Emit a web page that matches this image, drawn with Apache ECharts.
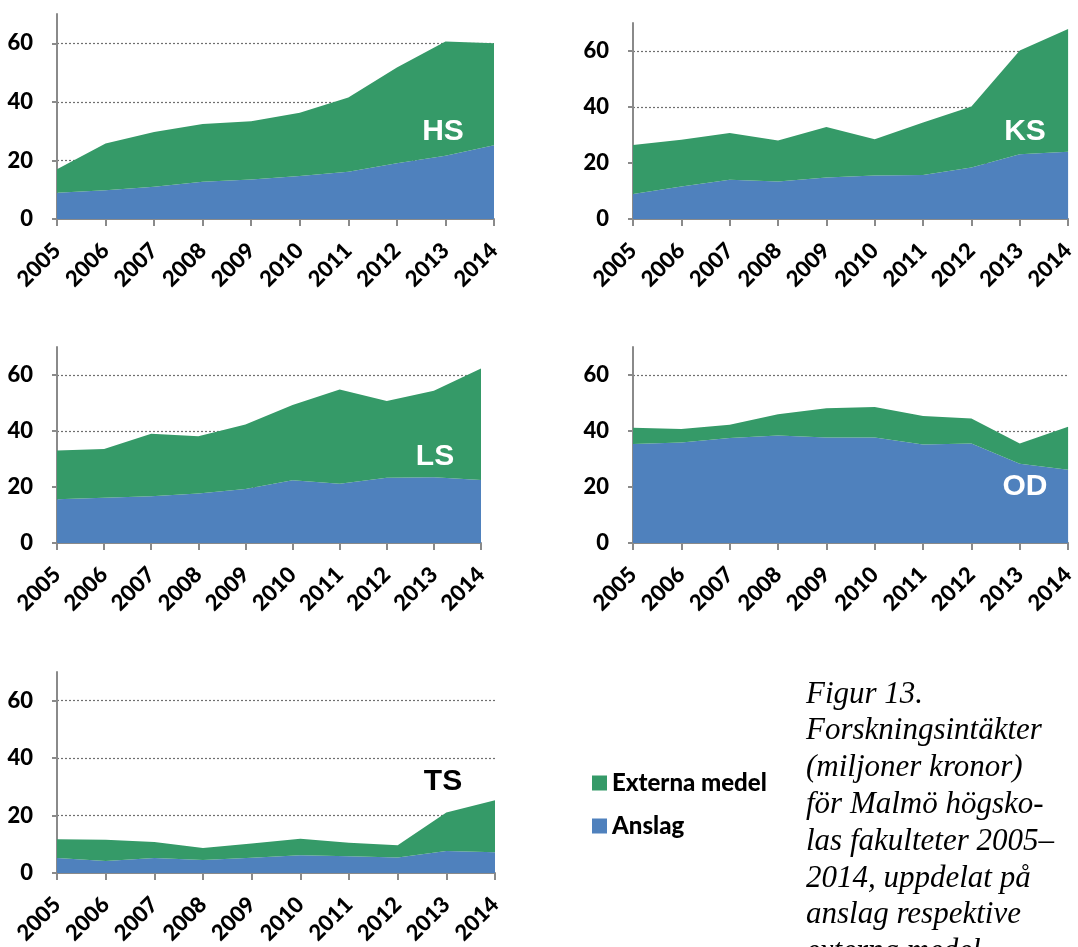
<!DOCTYPE html>
<html>
<head>
<meta charset="utf-8">
<script src="https://cdn.jsdelivr.net/npm/echarts@6/dist/echarts.min.js"></script>
<style>
  html, body { margin: 0; padding: 0; background: #fff; }
  #chart { width: 1078px; height: 947px; }
</style>
</head>
<body>
<div id="chart"></div>
<script>
// years on the x axis
var years = ['2005', '2006', '2007', '2008', '2009', '2010', '2011', '2012', '2013', '2014']
var yTicks = [0, 20, 40, 60]

// miljoner kronor
var hsAnslag = [9.0, 9.8, 11.0, 12.7, 13.5, 14.7, 16.1, 19.0, 21.6, 25.2]
var hsExterna = [8.0, 16.0, 18.7, 19.7, 19.9, 21.6, 25.4, 32.7, 39.0, 34.8]
var ksAnslag = [8.9, 11.6, 14.0, 13.4, 14.8, 15.5, 15.7, 18.4, 23.1, 24.0]
var ksExterna = [17.5, 16.7, 16.7, 14.6, 18.1, 13.0, 18.8, 21.8, 37.1, 43.9]
var lsAnslag = [15.6, 16.2, 16.7, 17.7, 19.3, 22.4, 21.2, 23.3, 23.5, 22.5]
var lsExterna = [17.4, 17.4, 22.3, 20.4, 23.0, 26.9, 33.6, 27.4, 30.9, 39.8]
var odAnslag = [35.4, 35.9, 37.5, 38.4, 37.7, 37.7, 35.2, 35.5, 28.3, 26.2]
var odExterna = [5.8, 4.8, 4.7, 7.6, 10.4, 10.9, 10.2, 9.0, 7.2, 15.3]
var tsAnslag = [5.2, 4.2, 5.2, 4.5, 5.3, 6.2, 5.8, 5.4, 7.7, 7.2]
var tsExterna = [6.6, 7.4, 5.6, 4.2, 5.0, 5.7, 4.7, 4.3, 13.4, 18.1]

var panels = [
  { name: 'HS', anslag: hsAnslag, externa: hsExterna, grid: { left: 57, top: 14, width: 437, height: 205 } },
  { name: 'KS', anslag: ksAnslag, externa: ksExterna, grid: { left: 633, top: 23, width: 438, height: 196 } },
  { name: 'LS', anslag: lsAnslag, externa: lsExterna, grid: { left: 57, top: 347, width: 424, height: 196 } },
  { name: 'OD', anslag: odAnslag, externa: odExterna, grid: { left: 633, top: 347, width: 438, height: 196 } },
  { name: 'TS', anslag: tsAnslag, externa: tsExterna, grid: { left: 57, top: 672, width: 438, height: 203 } }
]

var blue = '#4f81bd'
var green = '#359a68'
var axisGrey = '#8a8a8a'
var labelFont = { color: '#000', fontFamily: 'Lato', fontWeight: 900, fontSize: 22 }

var grids = []
var xAxes = []
var yAxes = []
var series = []

panels.forEach(function(p, i) {
  grids.push(p.grid)
  xAxes.push({
    type: 'category',
    gridIndex: i,
    data: years,
    boundaryGap: false,
    axisLine: { show: true, lineStyle: { color: axisGrey, width: 2 } },
    axisTick: { show: true, length: 7, lineStyle: { color: axisGrey, width: 2 } },
    axisLabel: Object.assign({ rotate: 45, margin: 28, interval: 0 }, labelFont),
    splitLine: { show: false }
  })
  yAxes.push({
    type: 'value',
    gridIndex: i,
    min: 0,
    max: 70,
    interval: 20,
    axisLine: { show: true, lineStyle: { color: axisGrey, width: 2 } },
    axisTick: { show: true, length: 5, customValues: yTicks, lineStyle: { color: axisGrey, width: 2 } },
    axisLabel: Object.assign({ margin: 24, customValues: yTicks }, labelFont),
    splitLine: {
      show: true,
      showMinLine: false,
      showMaxLine: true,
      lineStyle: { color: '#6f6f6f', type: [2, 2], width: 1.2 }
    }
  })
  series.push({
    name: 'Anslag',
    type: 'line',
    xAxisIndex: i,
    yAxisIndex: i,
    stack: p.name,
    data: p.anslag,
    symbol: 'none',
    silent: true,
    lineStyle: { width: 0 },
    itemStyle: { color: blue },
    areaStyle: { color: blue, opacity: 1 }
  })
  series.push({
    name: 'Externa medel',
    type: 'line',
    xAxisIndex: i,
    yAxisIndex: i,
    stack: p.name,
    data: p.externa,
    symbol: 'none',
    silent: true,
    lineStyle: { width: 0 },
    itemStyle: { color: green },
    areaStyle: { color: green, opacity: 1 }
  })
})

// faculty names inside the panels
var tags = [
  { text: 'HS', x: 443, y: 132, fill: '#fff' },
  { text: 'KS', x: 1025, y: 132, fill: '#fff' },
  { text: 'LS', x: 435, y: 457, fill: '#fff' },
  { text: 'OD', x: 1025, y: 487, fill: '#fff' },
  { text: 'TS', x: 443, y: 782, fill: '#000' }
]

var graphics = tags.map(function(t) {
  return {
    type: 'text',
    x: t.x,
    y: t.y,
    z: 100,
    style: {
      text: t.text,
      fill: t.fill,
      font: 'bold 30px "Liberation Sans", Arial, sans-serif',
      align: 'center',
      verticalAlign: 'middle'
    }
  }
})

graphics.push({
  type: 'text',
  x: 806,
  y: 676,
  z: 100,
  style: {
    text: 'Figur 13.\nForskningsintäkter\n(miljoner kronor)\nför Malmö högsko-\nlas fakulteter 2005–\n2014, uppdelat på\nanslag respektive\nexterna medel.',
    fill: '#000',
    font: 'italic 31px "Liberation Serif", serif',
    lineHeight: 36.8,
    align: 'left',
    verticalAlign: 'top'
  }
})

var chart = echarts.init(document.getElementById('chart'))
chart.setOption({
  animation: false,
  backgroundColor: '#fff',
  grid: grids,
  xAxis: xAxes,
  yAxis: yAxes,
  legend: {
    data: ['Externa medel', 'Anslag'],
    orient: 'vertical',
    left: 592,
    top: 771,
    padding: 0,
    itemGap: 19,
    itemWidth: 15,
    itemHeight: 15,
    icon: 'rect',
    selectedMode: false,
    textStyle: { color: '#000', fontFamily: 'Lato', fontWeight: 900, fontSize: 24 }
  },
  graphic: graphics,
  series: series
})
</script>
</body>
</html>
